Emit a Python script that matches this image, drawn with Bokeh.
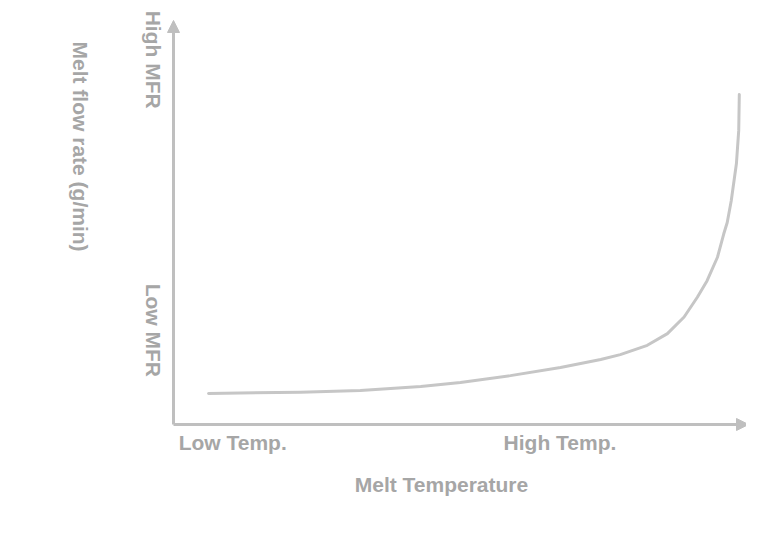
from bokeh.plotting import figure
from bokeh.models import Arrow, NormalHead, Label, Range1d
from bokeh.embed import file_html
from bokeh.resources import INLINE
import math

# ---- data (arbitrary units 0..100 on both axes) ----
curve_temp = [6.1, 22.1, 32.5, 43.0, 49.9, 58.6, 67.3, 74.3, 77.7, 82.4, 85.9,
              88.8, 91.1, 92.8, 94.6, 95.7, 96.3, 97.0, 97.9, 98.3, 98.4]
curve_mfr = [7.7, 8.0, 8.4, 9.4, 10.4, 12.1, 14.1, 16.1, 17.3, 19.6, 22.5,
             26.6, 31.5, 35.6, 41.4, 47.2, 50.0, 55.4, 64.6, 72.8, 81.7]

x_tick_positions = [0.9, 57.4]
x_tick_labels = ["Low Temp.", "High Temp."]
y_tick_positions = [90.3, 23.3]
y_tick_labels = ["High MFR", "Low MFR"]
x_title = "Melt Temperature"
y_title = "Melt flow rate (g/min)"

AXIS_COLOR = "#bfbfbf"
CURVE_COLOR = "#c6c6c6"
TEXT_COLOR = "#a6a6a6"
FONT = "Liberation Sans"
FS = "21px"

W, H = 746, 519
p = figure(width=W, height=H, output_backend="svg", toolbar_location=None,
           x_range=Range1d(-30.087, 99.652), y_range=Range1d(-23.515, 104.95),
           min_border=0, outline_line_color=None)
p.xaxis.visible = False
p.yaxis.visible = False
p.grid.visible = False
p.background_fill_color = "white"
p.border_fill_color = "white"

# axes as arrows
p.add_layout(Arrow(end=NormalHead(size=12, fill_color=AXIS_COLOR, line_color=AXIS_COLOR, line_width=1),
                   x_start=0, y_start=0, x_end=100, y_end=0,
                   line_color=AXIS_COLOR, line_width=3))
p.add_layout(Arrow(end=NormalHead(size=12, fill_color=AXIS_COLOR, line_color=AXIS_COLOR, line_width=1),
                   x_start=0, y_start=0, x_end=0, y_end=100,
                   line_color=AXIS_COLOR, line_width=3))

# curve
p.line(curve_temp, curve_mfr, line_color=CURVE_COLOR, line_width=3, line_cap="round", line_join="round")

# x tick labels
for xp, txt in zip(x_tick_positions, x_tick_labels):
    p.add_layout(Label(x=xp, y=-4.5, text=txt, text_align="left", text_baseline="middle",
                       text_font=FONT, text_font_style="bold", text_font_size=FS,
                       text_color=TEXT_COLOR))
# y tick labels (rotated)
for yp, txt in zip(y_tick_positions, y_tick_labels):
    p.add_layout(Label(x=-3.5, y=yp, text=txt, text_align="center", text_baseline="middle",
                       angle=-math.pi / 2,
                       text_font=FONT, text_font_style="bold", text_font_size=FS,
                       text_color=TEXT_COLOR))
# axis titles
p.add_layout(Label(x=46.6, y=-14.85, text=x_title, text_align="center", text_baseline="middle",
                   text_font=FONT, text_font_style="bold", text_font_size=FS,
                   text_color=TEXT_COLOR))
p.add_layout(Label(x=-16.2, y=68.8, text=y_title, text_align="center", text_baseline="middle",
                   angle=-math.pi / 2,
                   text_font=FONT, text_font_style="bold", text_font_size=FS,
                   text_color=TEXT_COLOR))

open("out.html", "w").write(file_html(p, INLINE))
